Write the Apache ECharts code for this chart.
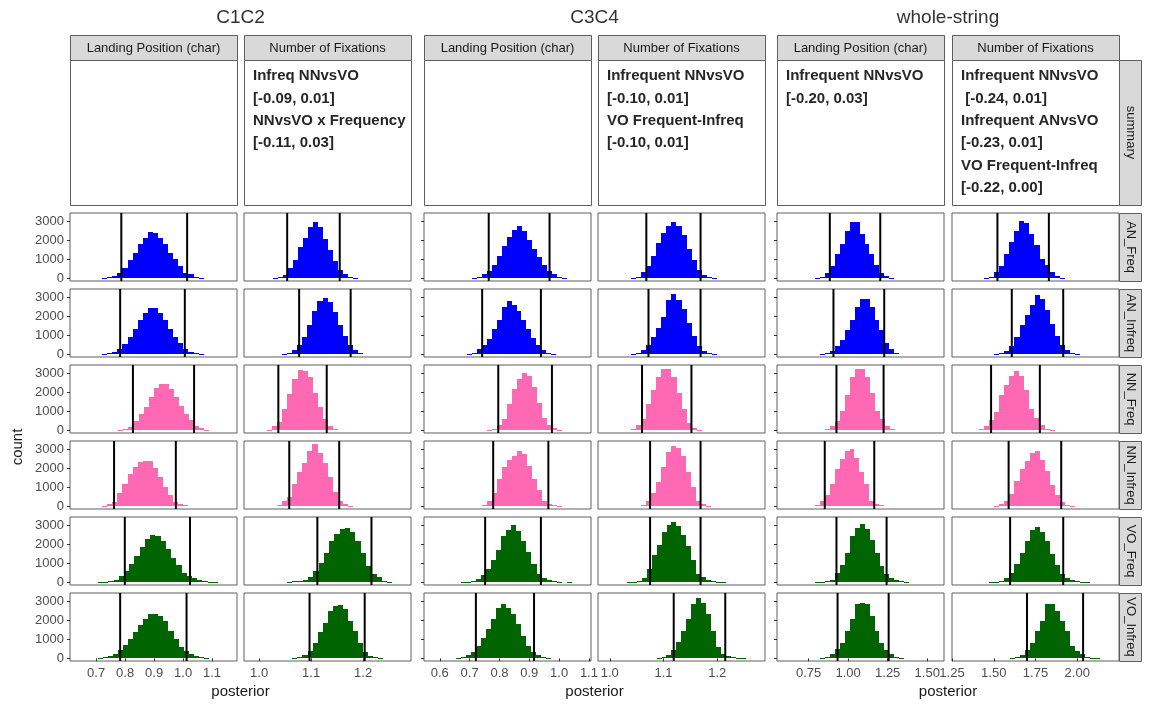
<!DOCTYPE html>
<html><head><meta charset="utf-8">
<script src="https://cdn.jsdelivr.net/npm/echarts@6/dist/echarts.min.js"></script>
<style>html,body{margin:0;padding:0;background:#fff}#c{width:1149px;height:705px}</style>
</head><body><div id="c"></div>
<script>
// ---------------- data ----------------
const groupTitles = ["C1C2", "C3C4", "whole-string"];
const measureLabels = ["Landing Position (char)", "Number of Fixations"];
const rowLabels = ["summary", "AN_Freq", "AN_Infreq", "NN_Freq", "NN_Infreq", "VO_Freq", "VO_Infreq"];
const yTickLabels = ["0", "1000", "2000", "3000"];
const xTickLabels = [
  ["0.7", "0.8", "0.9", "1.0", "1.1"],
  ["1.0", "1.1", "1.2"],
  ["0.6", "0.7", "0.8", "0.9", "1.0", "1.1"],
  ["1.0", "1.1", "1.2"],
  ["0.75", "1.00", "1.25", "1.50"],
  ["1.25", "1.50", "1.75", "2.00"]
];
const xRanges = [[0.61, 1.186], [0.971, 1.292], [0.547, 1.107], [0.978, 1.289], [0.55, 1.606], [1.25, 2.25]];
const yRange = [-140, 3460];

const summaryText = [
  [],
  ["Infreq NNvsVO", "[-0.09, 0.01]", "NNvsVO x Frequency", "[-0.11, 0.03]"],
  [],
  ["Infrequent NNvsVO", "[-0.10, 0.01]", "VO Frequent-Infreq", "[-0.10, 0.01]"],
  ["Infrequent NNvsVO", "[-0.20, 0.03]"],
  ["Infrequent NNvsVO", " [-0.24, 0.01]", "Infrequent ANvsVO", "[-0.23, 0.01]", "VO Frequent-Infreq", "[-0.22, 0.00]"]
];

// per row: span of drawn bins [left, right], HDI lines, bin counts (one entry per column)
const AN_Freq_span = [[0.721,1.071],[1.026,1.190],[0.707,1.028],[1.040,1.199],[0.789,1.292],[1.442,1.925]];
const AN_Freq_hdi  = [[0.787,1.014],[1.054,1.155],[0.764,0.968],[1.068,1.169],[0.884,1.203],[1.522,1.830]];
const AN_Freq_counts = [
  [30,60,150,300,560,960,1340,1800,2130,2440,2390,2130,1800,1360,1010,680,310,210,90,35],
  [20,60,170,560,990,1650,2140,2730,2960,2730,2090,1480,900,435,225,80,25],
  [30,80,225,400,700,1170,1690,2180,2580,2790,2520,2040,1570,1130,700,400,225,80,30],
  [20,70,330,660,1170,1880,2380,2790,3000,2790,2320,1570,960,450,175,70,20],
  [30,80,310,640,1270,1830,2490,3000,3000,2350,1830,1300,700,310,110,40],
  [30,80,350,660,1300,1910,2520,3050,2920,2350,1740,1040,700,350,110,40]
];
const AN_Infreq_span = [[0.721,1.071],[1.044,1.200],[0.690,0.991],[1.040,1.199],[0.823,1.323],[1.504,2.015]];
const AN_Infreq_hdi  = [[0.783,1.006],[1.077,1.176],[0.742,0.939],[1.072,1.169],[0.907,1.228],[1.608,1.916]];
const AN_Infreq_counts = [
  [20,60,140,310,540,920,1360,1830,2180,2440,2440,2180,1800,1360,920,580,260,140,60,20],
  [20,70,230,490,920,1570,2280,2810,2980,2760,2230,1570,960,490,230,60],
  [25,90,260,520,800,1330,1830,2490,2810,2630,2320,1830,1330,870,490,230,90,25],
  [20,70,230,490,920,1410,2000,2880,3190,2880,2400,1660,960,420,160,60,20],
  [30,80,190,440,750,1270,1800,2530,2930,2930,2530,1830,1270,610,310,90],
  [30,80,190,440,920,1530,2110,2620,3160,2930,2350,1620,960,490,230,90,30]
];
const NN_Freq_span = [[0.777,1.089],[1.016,1.151],[0.759,1.010],[1.040,1.171],[0.854,1.298],[1.414,1.864]];
const NN_Freq_hdi  = [[0.827,1.038],[1.037,1.130],[0.796,0.976],[1.060,1.152],[0.926,1.224],[1.484,1.776]];
const NN_Freq_counts = [
  [20,60,170,520,870,1260,1740,2250,2480,2480,2210,1780,1290,870,560,240,120,35],
  [35,210,440,1120,1900,2740,3210,3140,2830,1990,1260,590,240,70],
  [20,70,300,590,1380,2210,2740,3030,2880,2300,1460,650,300,120,35],
  [70,300,590,1400,2130,2830,3260,3260,2830,1990,1130,380,120,35],
  [70,240,520,1030,1870,2830,3260,3260,2830,1990,1030,590,210,70],
  [70,210,560,990,1870,2390,2860,3120,2860,2130,1120,650,300,90,30]
];
const NN_Infreq_span = [[0.721,1.018],[1.035,1.180],[0.741,1.010],[1.059,1.188],[0.789,1.228],[1.504,1.985]];
const NN_Infreq_hdi  = [[0.762,0.975],[1.058,1.154],[0.779,0.964],[1.075,1.169],[0.852,1.165],[1.589,1.904]];
const NN_Infreq_counts = [
  [40,120,230,720,1190,1710,2110,2350,2410,2400,2020,1530,1010,580,230,120,50],
  [60,260,520,1190,1800,2320,2930,3280,2840,2280,1530,780,310,120,40],
  [80,260,720,1450,2060,2460,2670,2930,2760,2150,1450,890,310,140,60,25],
  [50,310,720,1270,2060,2880,3190,3100,2670,1830,1010,260,110,40],
  [50,260,580,1190,1970,2530,2930,3050,2580,1800,1190,310,130,50],
  [40,100,310,660,1360,1970,2410,2840,2930,2460,1880,1130,610,230,90,35]
];
const VO_Freq_span = [[0.706,1.121],[1.054,1.256],[0.672,1.042],[1.032,1.216],[0.789,1.387],[1.474,2.075]];
const VO_Freq_hdi  = [[0.799,1.024],[1.112,1.216],[0.752,0.939],[1.075,1.169],[0.926,1.243],[1.598,1.916]];
const VO_Freq_counts = [
  [20,40,60,140,350,610,990,1390,1870,2310,2510,2480,2200,1770,1300,900,520,350,240,140,70,40,20],
  [20,50,80,140,310,610,1040,1560,2200,2570,2830,2860,2650,2200,1560,870,430,260,80,30],
  [15,30,50,170,400,690,1160,1730,2430,2770,3030,2720,2200,1600,950,430,230,120,60,30,0,30],
  [15,30,50,210,690,1470,1990,2690,3030,3170,3000,2510,1910,1210,430,260,140,60,30,15],
  [20,40,70,140,520,920,1560,2430,2900,3070,2830,2250,1560,870,430,230,100,50,20],
  [20,40,80,230,470,950,1560,2200,2770,2950,2690,2170,1510,920,430,230,140,70,35,15]
];
const VO_Infreq_span = [[0.706,1.089],[1.064,1.239],[0.655,0.974],[1.087,1.254],[0.821,1.355],[1.595,2.135]];
const VO_Infreq_hdi  = [[0.783,1.012],[1.097,1.203],[0.721,0.916],[1.119,1.215],[0.933,1.256],[1.699,2.035]];
const VO_Infreq_counts = [
  [30,70,140,230,440,720,1020,1370,1770,2070,2330,2330,2250,1980,1460,1020,580,370,230,140,70,30],
  [20,50,175,400,790,1370,1890,2510,2770,2820,2600,1980,1460,790,320,140,60,20],
  [25,70,190,320,670,1100,1540,2100,2680,2860,2650,2330,1810,1190,630,320,175,70,25],
  [20,50,160,420,880,1450,2100,2860,3180,2950,2330,1450,620,210,120,60,30,15],
  [30,80,210,470,830,1450,2070,2860,2950,2860,2240,1450,790,420,210,90,30],
  [30,80,160,420,830,1450,1970,2860,2860,2500,1970,1450,650,380,210,90,40,15]
];

const rowSpans  = [AN_Freq_span, AN_Infreq_span, NN_Freq_span, NN_Infreq_span, VO_Freq_span, VO_Infreq_span];
const rowHdi    = [AN_Freq_hdi, AN_Infreq_hdi, NN_Freq_hdi, NN_Infreq_hdi, VO_Freq_hdi, VO_Infreq_hdi];
const rowCounts = [AN_Freq_counts, AN_Infreq_counts, NN_Freq_counts, NN_Infreq_counts, VO_Freq_counts, VO_Infreq_counts];
const rowColors = ["#0000FF", "#0000FF", "#FF69B4", "#FF69B4", "#006400", "#006400"];

// ---------------- layout ----------------
const colLeft = [70, 244, 424, 598, 777, 952];
const colW = 167;
const rowTop = [213, 289, 365, 441, 517, 593];
const rowH = 68;
const sumTop = 60, sumH = 145;
const stripTop = 35, stripH = 25;
const rStripX = 1119, rStripW = 22;
const FONT = "'Liberation Sans', Arial, sans-serif";
const borderCol = "#5e5e5e";

const grids = [], xAxes = [], yAxes = [], series = [];
const yTickValues = yTickLabels.map(Number);
const xTickValues = xTickLabels.map(a => a.map(Number));

for (let r = 0; r < 6; r++) {
  for (let c = 0; c < 6; c++) {
    const gi = r * 6 + c;
    grids.push({left: colLeft[c], top: rowTop[r], width: colW, height: rowH,
      show: true, borderColor: borderCol, borderWidth: 1, backgroundColor: '#fff'});
    const bottom = r === 5;
    xAxes.push({type: 'value', gridIndex: gi, min: xRanges[c][0], max: xRanges[c][1],
      axisLine: {show: false}, splitLine: {show: false},
      axisTick: {show: bottom, customValues: xTickValues[c], length: 3, lineStyle: {color: '#333'}},
      axisLabel: {show: bottom, customValues: xTickValues[c], margin: 6, color: '#4d4d4d', fontSize: 13, fontFamily: FONT,
        formatter: (v) => { const k = xTickValues[c].findIndex(t => Math.abs(t - v) < 1e-9); return k >= 0 ? xTickLabels[c][k] : ''; }}
    });
    const tickCol = (c % 2 === 0);
    yAxes.push({type: 'value', gridIndex: gi, min: yRange[0], max: yRange[1],
      axisLine: {show: false}, splitLine: {show: false},
      axisTick: {show: tickCol, customValues: yTickValues, length: 3, lineStyle: {color: '#333'}},
      axisLabel: {show: c === 0, customValues: yTickValues, margin: 6, color: '#4d4d4d', fontSize: 13, fontFamily: FONT,
        formatter: (v) => { const k = yTickValues.indexOf(v); return k >= 0 ? yTickLabels[k] : ''; }}
    });
    const span = rowSpans[r][c], counts = rowCounts[r][c];
    const bw = (span[1] - span[0]) / counts.length;
    const bins = counts.map((n, k) => [span[0] + k * bw, span[0] + (k + 1) * bw, n]);
    const color = rowColors[r];
    series.push({type: 'custom', xAxisIndex: gi, yAxisIndex: gi, data: bins, clip: true, silent: true, animation: false,
      renderItem: (params, api) => {
        if (api.value(2) <= 0) return null;
        const p0 = api.coord([api.value(0), 0]);
        const p1 = api.coord([api.value(1), api.value(2)]);
        const x0 = Math.round(p0[0]), x1 = Math.round(p1[0]);
        const yb = Math.round(p0[1]), yt = Math.round(p1[1]);
        return {type: 'rect', shape: {x: x0, y: yt, width: x1 - x0, height: Math.max(1, yb - yt)},
          style: {fill: color}};
      }});
    series.push({type: 'custom', xAxisIndex: gi, yAxisIndex: gi, data: rowHdi[r][c].map(v => [v]), clip: true, silent: true, animation: false,
      renderItem: (params, api) => {
        const a = api.coord([api.value(0), yRange[0]]);
        const b = api.coord([api.value(0), yRange[1]]);
        return {type: 'line', shape: {x1: a[0], y1: a[1], x2: b[0], y2: b[1]}, style: {stroke: '#000', lineWidth: 2}};
      }});
  }
}

// ---------------- decorations ----------------
const graphics = [];
for (let g = 0; g < 3; g++) {
  const cx = (colLeft[2 * g] + colLeft[2 * g + 1] + colW) / 2;
  graphics.push({type: 'text', x: cx, y: 18, style: {text: groupTitles[g], font: "19px " + FONT, fill: '#333',
    align: 'center', verticalAlign: 'middle', textAlign: 'center', textVerticalAlign: 'middle'}});
  graphics.push({type: 'text', x: cx, y: 692, style: {text: 'posterior', font: "15px " + FONT, fill: '#1a1a1a',
    align: 'center', verticalAlign: 'middle', textAlign: 'center', textVerticalAlign: 'middle'}});
}
for (let c = 0; c < 6; c++) {
  graphics.push({type: 'rect', shape: {x: colLeft[c] + 0.5, y: stripTop + 0.5, width: colW, height: stripH},
    style: {fill: '#D9D9D9', stroke: borderCol, lineWidth: 1}});
  graphics.push({type: 'text', x: colLeft[c] + colW / 2, y: stripTop + stripH / 2 + 1,
    style: {text: measureLabels[c % 2], font: "13px " + FONT, fill: '#1a1a1a',
      align: 'center', verticalAlign: 'middle', textAlign: 'center', textVerticalAlign: 'middle'}});
  graphics.push({type: 'rect', shape: {x: colLeft[c] + 0.5, y: sumTop + 0.5, width: colW, height: sumH},
    style: {fill: '#fff', stroke: borderCol, lineWidth: 1}});
  summaryText[c].forEach((t, k) => {
    graphics.push({type: 'text', x: colLeft[c] + 9, y: 76 + 22.4 * k,
      style: {text: t, font: "bold 15px " + FONT, fill: '#262626',
        align: 'left', verticalAlign: 'middle', textAlign: 'left', textVerticalAlign: 'middle'}});
  });
}
const stripRowsTop = [sumTop].concat(rowTop);
const stripRowsH = [sumH].concat(rowTop.map(() => rowH));
for (let r = 0; r < 7; r++) {
  graphics.push({type: 'rect', shape: {x: rStripX + 0.5, y: stripRowsTop[r] + 0.5, width: rStripW, height: stripRowsH[r]},
    style: {fill: '#D9D9D9', stroke: borderCol, lineWidth: 1}});
  graphics.push({type: 'text', x: rStripX + rStripW / 2 + 1, y: stripRowsTop[r] + stripRowsH[r] / 2, rotation: -Math.PI / 2,
    style: {text: rowLabels[r], font: "13px " + FONT, fill: '#1a1a1a',
      align: 'center', verticalAlign: 'middle', textAlign: 'center', textVerticalAlign: 'middle'}});
}
graphics.push({type: 'text', x: 18, y: 447, rotation: Math.PI / 2,
  style: {text: 'count', font: "15px " + FONT, fill: '#1a1a1a',
    align: 'center', verticalAlign: 'middle', textAlign: 'center', textVerticalAlign: 'middle'}});

const chart = echarts.init(document.getElementById('c'), null, {renderer: 'canvas'});
chart.setOption({
  backgroundColor: '#fff',
  animation: false,
  grid: grids, xAxis: xAxes, yAxis: yAxes, series: series,
  graphic: graphics
});
</script></body></html>
